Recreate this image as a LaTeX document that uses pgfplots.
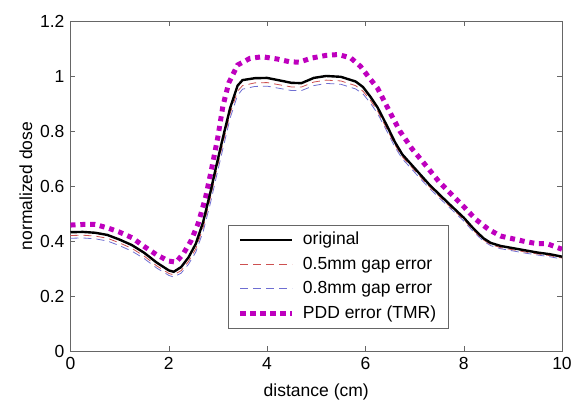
\documentclass[border=0pt]{standalone}
\usepackage{fontspec}
\setmainfont{Liberation Sans}
\usepackage{pgfplots}
\pgfplotsset{compat=1.18}
\definecolor{pddm}{RGB}{190,0,190}
\definecolor{gapred}{RGB}{205,80,80}
\definecolor{gapblue}{RGB}{110,110,210}
\begin{document}
\fontsize{17.5}{21}\selectfont
\begin{tikzpicture}
\begin{axis}[
  scale only axis, width=491.5pt, height=330pt,
  xmin=0, xmax=10, ymin=0, ymax=1.2,
  xtick={0,2,4,6,8,10}, ytick={0,0.2,0.4,0.6,0.8,1,1.2},
  tick align=inside, major tick length=5pt,
  axis line style={draw=black!60}, every tick/.style={draw=black!60},
  /pgf/number format/assume math mode=true,
  font=\fontsize{17.5}{21}\selectfont,
  tick label style={font=\fontsize{17.5}{21}\selectfont},
  xlabel={distance (cm)}, ylabel={normalized dose},
  xlabel style={yshift=-3pt}, ylabel style={yshift=-4pt},
  legend style={at={(axis cs:3.2,0.458)}, anchor=north west, draw=black!60, fill=white,
    inner xsep=10pt, inner ysep=5pt, row sep=5.5pt,
    nodes={inner xsep=2pt, inner ysep=2pt},
    font=\fontsize{17.5}{21}\selectfont, cells={anchor=west}},
  legend image code/.code={\draw[#1] (0pt,0pt) -- (52pt,0pt); \path (58pt,0pt);},
]
\addlegendimage{black, line width=2.4pt}
\addlegendentry{original}
\addlegendimage{gapred, line width=0.8pt, dash pattern=on 8pt off 5pt}
\addlegendentry{0.5mm gap error}
\addlegendimage{gapblue, line width=0.8pt, dash pattern=on 8pt off 5pt}
\addlegendentry{0.8mm gap error}
\addlegendimage{pddm, line width=5pt, dash pattern=on 5.5pt off 4.5pt}
\addlegendentry{PDD error (TMR)}

\addplot[forget plot, pddm, line width=5pt, dash pattern=on 5pt off 4.8pt] coordinates {
(0,0.458) (0.25,0.46) (0.5,0.46) (0.75,0.448) (1.0,0.432) (1.25,0.412) (1.5,0.38)
(1.75,0.35) (2.0,0.327) (2.15,0.323) (2.3,0.355) (2.45,0.40) (2.6,0.465) (2.75,0.56)
(2.88,0.67) (3.0,0.78) (3.1,0.89) (3.22,0.975) (3.4,1.04) (3.65,1.064) (3.9,1.07)
(4.2,1.062) (4.45,1.052) (4.65,1.05) (4.9,1.065) (5.2,1.075) (5.45,1.078) (5.7,1.066)
(5.9,1.035) (6.05,1.0) (6.25,0.955) (6.45,0.885) (6.7,0.80) (6.95,0.735) (7.25,0.67)
(7.5,0.615) (7.75,0.57) (8.0,0.525) (8.25,0.478) (8.5,0.443) (8.75,0.418) (9.0,0.408)
(9.25,0.398) (9.5,0.39) (9.7,0.39) (9.85,0.38) (10,0.37)};

\addplot[forget plot, gapblue, line width=0.8pt, dash pattern=on 8pt off 5pt] coordinates {
(0,0.41) (0.25,0.411) (0.5,0.408) (0.75,0.4) (1.0,0.383) (1.25,0.363) (1.5,0.336)
(1.75,0.302) (2.0,0.275) (2.1,0.269) (2.25,0.283) (2.4,0.315) (2.55,0.36) (2.7,0.435)
(2.85,0.54) (2.95,0.62) (3.1,0.735) (3.25,0.848) (3.4,0.93) (3.5,0.952) (3.75,0.962)
(4.0,0.963) (4.25,0.955) (4.5,0.947) (4.7,0.947) (4.95,0.965) (5.2,0.973) (5.5,0.97)
(5.8,0.953) (5.95,0.935) (6.1,0.902) (6.25,0.863) (6.45,0.795) (6.6,0.742) (6.75,0.699)
(6.9,0.67) (7.1,0.63) (7.3,0.592) (7.5,0.557) (7.75,0.515) (8.0,0.473) (8.2,0.433)
(8.4,0.4) (8.55,0.383) (8.75,0.372) (9.0,0.364) (9.25,0.356) (9.5,0.349) (9.75,0.343) (10,0.334)};

\addplot[forget plot, gapred, line width=0.8pt, dash pattern=on 8pt off 5pt] coordinates {
(0,0.42) (0.25,0.421) (0.5,0.418) (0.75,0.41) (1.0,0.393) (1.25,0.373) (1.5,0.345)
(1.75,0.31) (2.0,0.282) (2.1,0.277) (2.25,0.292) (2.4,0.325) (2.55,0.372) (2.7,0.45)
(2.85,0.56) (2.95,0.64) (3.1,0.755) (3.25,0.865) (3.4,0.945) (3.5,0.965) (3.75,0.975)
(4.0,0.976) (4.25,0.968) (4.5,0.96) (4.7,0.96) (4.95,0.978) (5.2,0.985) (5.5,0.982)
(5.8,0.965) (5.95,0.945) (6.1,0.912) (6.25,0.872) (6.45,0.803) (6.6,0.75) (6.75,0.706)
(6.9,0.677) (7.1,0.637) (7.3,0.598) (7.5,0.563) (7.75,0.52) (8.0,0.478) (8.2,0.438)
(8.4,0.404) (8.55,0.387) (8.75,0.376) (9.0,0.368) (9.25,0.36) (9.5,0.353) (9.75,0.347) (10,0.338)};

\addplot[forget plot, black, line width=2.4pt] coordinates {
(0,0.432) (0.25,0.433) (0.5,0.43) (0.75,0.422) (1.0,0.405) (1.25,0.385) (1.5,0.357)
(1.75,0.322) (2.0,0.293) (2.1,0.288) (2.25,0.305) (2.4,0.34) (2.55,0.39) (2.7,0.47)
(2.85,0.58) (2.95,0.66) (3.1,0.775) (3.25,0.885) (3.4,0.965) (3.5,0.985) (3.75,0.992)
(4.0,0.993) (4.25,0.984) (4.5,0.975) (4.7,0.974) (4.95,0.993) (5.2,1.0) (5.5,0.997)
(5.8,0.98) (5.95,0.96) (6.1,0.925) (6.25,0.885) (6.45,0.815) (6.6,0.76) (6.75,0.715)
(6.9,0.685) (7.1,0.645) (7.3,0.605) (7.5,0.57) (7.75,0.527) (8.0,0.485) (8.2,0.445)
(8.4,0.41) (8.55,0.393) (8.75,0.382) (9.0,0.374) (9.25,0.366) (9.5,0.358) (9.75,0.352) (10,0.343)};

\coordinate (sw) at (rel axis cs:0,0);
\coordinate (ne) at (rel axis cs:1,1);
\end{axis}
\pgfresetboundingbox
\path[use as bounding box] ([xshift=-70.5pt,yshift=-52pt]sw) rectangle ([xshift=9pt,yshift=21pt]ne);
\end{tikzpicture}
\end{document}
